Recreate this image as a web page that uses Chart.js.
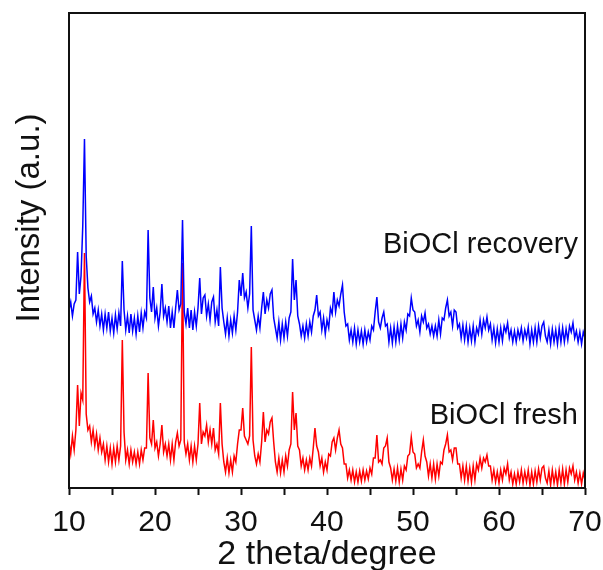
<!DOCTYPE html>
<html lang="en">
<head>
  <meta charset="UTF-8">
  <title>BiOCl XRD</title>
  <script src="https://cdn.jsdelivr.net/npm/chart.js"></script>
  <style>
    html, body {
      margin: 0;
      padding: 0;
      background: #ffffff;
      overflow: hidden;
    }
    canvas {
      display: block;
    }
  </style>
</head>
<body>
  <canvas id="xrdChart" width="603" height="570"></canvas>

  <script>
    // 2 theta grid: 10 to 70 degrees, one reading every 0.2 degree
    const thetaStart = 10;
    const thetaStep = 0.2;

    // BiOCl recovery (stacked above the fresh pattern)
    const recoveryCounts = [
      178, 186, 172, 184, 188, 236, 194, 212, 262, 349,
      232, 200, 186, 192, 174, 180, 166, 178, 162, 174,
      158, 174, 160, 176, 157, 170, 155, 173, 159, 175,
      162, 227, 178, 158, 172, 155, 174, 157, 170, 154,
      172, 156, 175, 160, 176, 170, 258, 190, 176, 201,
      170, 180, 162, 176, 204, 172, 180, 166, 182, 160,
      176, 160, 180, 198, 178, 184, 268, 176, 164, 180,
      160, 178, 158, 176, 162, 180, 210, 174, 190, 193,
      172, 184, 168, 186, 191, 166, 178, 162, 221, 180,
      166, 154, 170, 152, 168, 155, 172, 158, 176, 208,
      192, 215, 190, 196, 180, 194, 262, 178, 168, 158,
      172, 160, 180, 196, 174, 188, 180, 194, 198, 170,
      160, 150, 166, 148, 164, 150, 166, 152, 170, 176,
      229, 188, 208, 172, 164, 152, 162, 150, 164, 152,
      166, 156, 172, 178, 193, 172, 176, 158, 170, 154,
      168, 160, 180, 174, 196, 176, 188, 182, 194, 203,
      176, 162, 164, 148, 158, 146, 160, 144, 158, 146,
      157, 144, 158, 146, 156, 148, 162, 158, 176, 191,
      166, 160, 170, 176, 162, 164, 146, 160, 145, 161,
      146, 162, 148, 164, 150, 166, 158, 174, 172, 190,
      178, 176, 162, 168, 156, 172, 166, 175, 160, 164,
      154, 162, 152, 162, 152, 168, 154, 170, 168, 180,
      188, 172, 176, 162, 178, 176, 160, 164, 150, 163,
      148, 162, 146, 160, 147, 162, 146, 160, 154, 168,
      154, 168, 160, 171, 158, 164, 148, 160, 145, 159,
      146, 160, 147, 162, 156, 165, 150, 158, 146, 157,
      146, 158, 150, 160, 147, 158, 150, 161, 144, 158,
      146, 160, 146, 162, 150, 162, 166, 152, 146, 158,
      144, 159, 146, 158, 144, 160, 146, 160, 146, 159,
      148, 162, 156, 165, 150, 157, 146, 156, 144, 156,
      150
    ];

    // BiOCl fresh
    const freshCounts = [
      46, 34, 52, 38, 58, 103, 62, 95, 88, 235,
      74, 58, 62, 46, 58, 42, 54, 38, 50, 36,
      44, 28, 42, 26, 40, 24, 40, 26, 42, 28,
      42, 148, 56, 28, 38, 24, 38, 26, 36, 24,
      36, 24, 38, 28, 40, 40, 115, 50, 44, 68,
      40, 46, 32, 44, 63, 36, 44, 32, 44, 28,
      44, 28, 46, 55, 42, 48, 225, 46, 34, 44,
      28, 42, 26, 42, 28, 44, 85, 44, 56, 52,
      63, 46, 58, 44, 60, 38, 44, 34, 85, 44,
      26, 16, 30, 15, 28, 16, 32, 26, 44, 58,
      58, 80, 52, 48, 44, 52, 141, 48, 32, 24,
      34, 26, 46, 76, 46, 58, 54, 66, 70, 46,
      26, 16, 30, 15, 28, 16, 32, 22, 38, 44,
      96, 58, 75, 42, 38, 22, 30, 18, 28, 18,
      30, 22, 40, 60, 42, 36, 22, 30, 16, 26,
      18, 34, 32, 46, 50, 38, 50, 58, 44, 40,
      24, 24, 10, 18, 8, 18, 6, 16, 6, 17,
      7, 18, 8, 17, 9, 20, 14, 30, 30, 53,
      26, 28, 24, 40, 42, 50, 26, 20, 8, 19,
      7, 20, 6, 19, 8, 22, 18, 32, 34, 51,
      36, 34, 20, 24, 20, 36, 48, 32, 26, 12,
      24, 10, 24, 9, 24, 12, 26, 24, 38, 44,
      53, 36, 38, 28, 40, 40, 24, 24, 10, 22,
      8, 22, 7, 20, 6, 22, 8, 24, 18, 30,
      20, 30, 26, 33, 22, 22, 8, 18, 6, 16,
      5, 18, 8, 20, 14, 24, 8, 16, 4, 14,
      4, 16, 6, 18, 5, 16, 6, 18, 3, 16,
      4, 17, 6, 19, 8, 20, 22, 10, 5, 17,
      3, 18, 5, 16, 3, 18, 5, 19, 4, 18,
      6, 20, 14, 22, 8, 16, 5, 15, 4, 15,
      8
    ];

    const seriesNames = ["BiOCl recovery", "BiOCl fresh"];
    const seriesColors = ["#0000ff", "#ff0000"];
    const xTickLabels = [10, 20, 30, 40, 50, 60, 70];

    const fontFamily = "'Liberation Sans', Arial, sans-serif";

    function toPoints(values) {
      return values.map((v, i) => ({ x: +(thetaStart + i * thetaStep).toFixed(1), y: v }));
    }

    // frame, y title and the two series labels
    const decorations = {
      id: "decorations",
      afterDraw(chart) {
        const { ctx, chartArea } = chart;
        ctx.save();
        ctx.strokeStyle = "#111";
        ctx.lineWidth = 2;
        ctx.strokeRect(chartArea.left, chartArea.top, chartArea.right - chartArea.left, chartArea.bottom - chartArea.top);

        ctx.fillStyle = "#111";
        ctx.font = "29px " + fontFamily;
        ctx.textAlign = "right";
        ctx.textBaseline = "middle";
        ctx.fillText(seriesNames[0], chartArea.right - 7, 245);
        ctx.fillText(seriesNames[1], chartArea.right - 7, 416);

        ctx.translate(30, 218);
        ctx.rotate(-Math.PI / 2);
        ctx.textAlign = "center";
        ctx.font = "33px " + fontFamily;
        ctx.fillText("Intensity (a.u.)", 0, 0);
        ctx.restore();
      }
    };

    const ctx = document.getElementById("xrdChart").getContext("2d");

    new Chart(ctx, {
      type: "line",
      data: {
        datasets: [
          {
            label: seriesNames[0],
            data: toPoints(recoveryCounts),
            borderColor: seriesColors[0],
            borderWidth: 1.5,
            pointRadius: 0,
            tension: 0
          },
          {
            label: seriesNames[1],
            data: toPoints(freshCounts),
            borderColor: seriesColors[1],
            borderWidth: 1.5,
            pointRadius: 0,
            tension: 0
          }
        ]
      },
      options: {
        responsive: false,
        animation: false,
        layout: {
          padding: { left: 69, top: 13, right: 18, bottom: 0 }
        },
        plugins: {
          legend: { display: false },
          tooltip: { enabled: false }
        },
        scales: {
          x: {
            type: "linear",
            min: 10,
            max: 70,
            border: { display: false },
            grid: {
              drawOnChartArea: false,
              drawTicks: true,
              tickLength: 7,
              tickWidth: 2,
              tickColor: "#111"
            },
            ticks: {
              stepSize: 5,
              padding: 10,
              color: "#111",
              font: { family: fontFamily, size: 30 },
              callback: function(value) {
                return xTickLabels.includes(value) ? String(value) : "";
              }
            },
            title: {
              display: true,
              text: "2 theta/degree",
              color: "#111",
              font: { family: fontFamily, size: 34, lineHeight: 1 },
              padding: { top: 0, bottom: -2 }
            },
            afterFit: function(scale) {
              // keep the plot box where the reference has it; the "70" label may overhang
              scale.height = 82;
              scale.paddingLeft = 0;
              scale.paddingRight = 0;
            }
          },
          y: {
            display: false,
            min: 0,
            max: 475
          }
        }
      },
      plugins: [decorations]
    });
  </script>
</body>
</html>
